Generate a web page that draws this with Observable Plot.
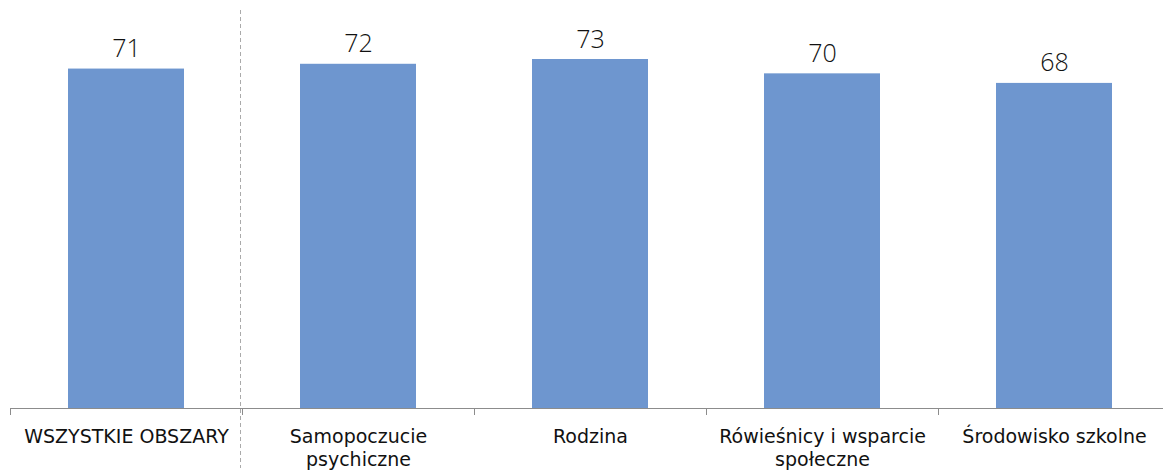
<!DOCTYPE html>
<html>
<head>
<meta charset="utf-8">
<script src="https://cdn.jsdelivr.net/npm/d3@7"></script>
<script src="https://cdn.jsdelivr.net/npm/@observablehq/plot@0.6"></script>
<style>
  html, body { margin: 0; padding: 0; background: #fff; overflow: hidden; }
  svg { display: block; }
</style>
</head>
<body>
<div id="chart"></div>
<script>
const categories = ["WSZYSTKIE OBSZARY", "Samopoczucie\npsychiczne", "Rodzina", "Rówieśnicy i wsparcie\nspołeczne", "Środowisko szkolne"];
const values = [71, 72, 73, 70, 68];
const boundaries = [0, 1, 2, 3, 4, 5];
const dividerAt = [1];

const data = categories.map((c, i) => ({i, label: c, value: values[i]}));
const barColor = "#6e96cf";
const font = "'Open Sans', 'DejaVu Sans', sans-serif";
const labelFont = "'DejaVu Sans', sans-serif";

const chart = Plot.plot({
  width: 1163,
  height: 472,
  marginTop: 10,
  marginBottom: 4,
  marginLeft: 10,
  marginRight: 0,
  style: {fontFamily: font, background: "#fff"},
  x: {domain: [0, 5], range: [10, 1170], axis: null},
  y: {domain: [0, 80], range: [408, 408 - 80 * 349 / 73], axis: null},
  marks: [
    Plot.rectY(data, {x1: d => d.i + 0.25, x2: d => d.i + 0.75, y: "value", fill: barColor}),
    Plot.ruleY([0], {stroke: "#8c8c8c", strokeWidth: 1}),
    Plot.ruleX(boundaries, {x: d => d, y1: 0, y2: 0, insetBottom: -7, stroke: "#8c8c8c"}),
    Plot.ruleX(dividerAt, {x: d => d, dx: -2, stroke: "#aaaaaa", strokeDasharray: "4,3"}),
    Plot.text(data, {x: d => d.i + 0.5, y: "value", text: d => String(d.value), dy: -12, lineAnchor: "bottom", fontSize: 25, fontWeight: 300, fill: "#111"}),
    Plot.text(data, {x: d => d.i + 0.5, y: 0, text: "label", dy: 18, lineAnchor: "top", fontSize: 19, fontFamily: labelFont, lineHeight: 1.21, fill: "#111"})
  ]
});
document.getElementById("chart").appendChild(chart);
</script>
</body>
</html>
